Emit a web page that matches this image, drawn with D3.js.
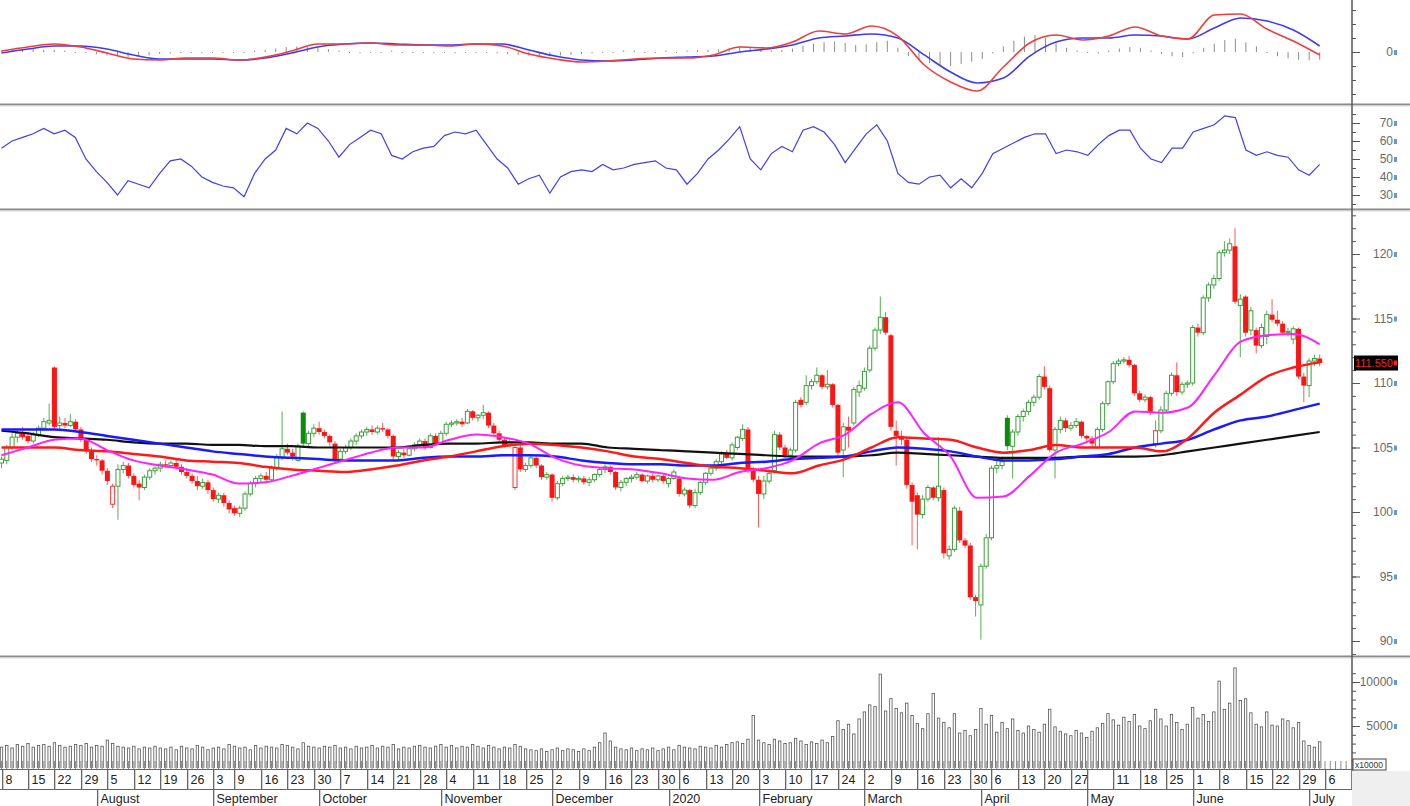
<!DOCTYPE html>
<html>
<head>
<meta charset="utf-8">
<script src="https://cdn.jsdelivr.net/npm/d3@7"></script>
<style>
body { margin: 0; background: #fff; }
svg { display: block; font-family: "Liberation Sans", Arial, sans-serif; }
</style>
</head>
<body>
<svg id="chart" width="1410" height="806"></svg>
<script>
// daily candles, 8 Jul 2019 .. 3 Jul 2020
var opens = [103.8,104.0,105.0,105.8,106.2,105.9,105.5,106.0,106.5,106.9,
111.2,106.7,106.9,106.7,107.0,106.4,105.6,104.7,104.1,104.0,
103.2,100.6,102.0,103.3,103.6,102.8,102.2,101.9,102.7,103.2,
103.4,103.7,103.6,103.8,103.5,103.1,102.8,102.4,102.0,102.3,
101.7,101.0,101.3,100.7,100.3,99.9,100.3,101.4,102.2,102.6,
102.8,102.5,103.4,104.2,104.9,104.6,104.0,107.7,105.3,106.1,
106.5,106.2,105.9,105.3,104.1,104.7,105.0,105.5,105.9,106.2,
106.4,106.2,106.5,106.4,105.9,104.3,104.6,104.4,104.9,105.2,
105.5,105.0,105.9,105.3,106.1,106.8,106.9,107.0,106.9,107.8,
107.3,107.5,107.7,106.7,106.1,105.6,105.2,101.9,105.0,103.3,
103.6,104.2,103.6,102.7,102.9,101.1,102.2,102.6,102.7,102.5,
102.6,102.3,102.5,102.9,103.3,103.5,103.1,101.9,102.3,102.6,
102.7,102.9,102.4,102.8,102.5,102.8,102.2,102.6,102.6,101.4,
101.7,100.5,101.5,102.3,103.0,103.4,103.9,104.6,104.2,105.0,
105.7,106.4,103.3,102.5,101.4,102.4,103.2,106.0,105.0,104.4,
104.8,108.7,108.5,109.8,110.1,110.6,109.7,109.9,108.3,104.8,
106.6,106.9,109.3,109.6,111.0,112.7,114.1,115.1,113.7,106.3,
105.9,105.6,102.1,101.3,99.8,101.0,101.9,101.1,101.7,96.6,
97.1,100.1,97.8,97.4,93.4,92.8,95.8,98.0,103.4,103.6,
107.3,105.1,106.2,107.4,107.8,108.5,108.9,110.5,109.6,104.8,
106.4,107.1,106.5,106.7,107.0,105.9,105.7,105.0,106.4,108.4,
110.1,111.5,111.7,111.8,111.4,109.2,108.7,108.9,105.3,106.3,
107.9,109.2,110.6,109.3,109.9,110.0,114.3,113.9,116.6,117.6,
118.1,120.1,120.3,120.6,116.0,116.7,114.1,114.1,112.9,113.6,
115.3,114.9,114.6,113.9,113.4,114.2,110.5,109.8,111.7,111.9];

var highs = [104.3,105.2,106.1,106.3,106.6,106.2,106.2,106.7,107.3,108.4,
111.3,107.4,107.3,107.6,107.2,106.6,105.8,105.0,104.4,104.1,
103.4,102.2,103.7,103.9,103.8,103.0,102.5,102.9,103.4,103.6,
103.9,104.0,104.0,104.1,103.7,103.4,103.0,102.8,102.6,102.5,
101.9,101.5,101.5,100.9,100.5,100.5,101.6,102.4,102.8,103.0,
103.1,103.6,104.5,107.8,105.3,104.9,105.3,107.8,106.3,106.8,
107.0,106.4,106.0,105.5,104.9,105.2,105.7,106.1,106.4,106.6,
106.7,106.7,106.9,106.5,106.0,104.8,104.9,105.0,105.4,105.7,
105.7,106.1,106.1,106.3,107.0,107.1,107.2,107.3,108.0,107.9,
107.6,108.3,107.8,106.9,106.3,105.8,105.7,105.1,105.2,103.8,
104.4,104.3,103.7,103.1,103.0,102.4,102.8,102.9,102.9,102.8,
102.8,102.7,103.0,103.4,103.7,103.6,103.2,102.5,102.7,102.9,
103.1,103.0,102.9,103.0,102.9,102.9,102.7,103.3,102.8,101.9,
101.8,101.8,102.4,103.1,103.6,104.1,104.7,104.8,105.4,105.9,
106.8,106.6,103.5,102.8,102.8,103.3,106.3,106.2,105.2,105.0,
108.7,108.9,110.6,110.3,111.2,110.7,111.0,110.0,108.4,106.9,
107.4,109.7,110.2,111.2,112.9,114.3,116.7,115.5,113.8,107.1,
106.3,105.8,102.3,101.5,101.3,102.1,102.0,105.8,101.9,97.4,
100.5,100.4,98.0,97.6,93.6,96.0,98.3,103.6,104.0,104.3,
107.5,106.4,107.6,108.0,108.7,109.1,110.7,111.3,109.8,106.6,
107.4,107.3,107.0,107.3,107.1,106.0,105.9,106.6,108.6,110.2,
111.7,111.9,112.0,112.1,111.5,109.4,109.1,109.0,107.1,108.2,
109.4,110.8,111.6,110.1,110.2,114.5,114.6,116.8,117.8,118.4,
120.3,121.0,121.2,122.0,116.9,116.8,115.9,114.3,114.6,115.6,
116.5,115.6,114.8,114.3,114.4,114.3,110.8,111.9,112.2,112.2];

var lows = [103.4,103.7,104.8,105.4,105.6,105.3,105.3,105.8,106.3,106.7,
106.4,106.3,106.5,106.6,106.2,105.4,104.5,103.9,103.6,102.9,
102.1,100.3,99.4,103.0,102.6,101.9,100.9,101.7,102.5,102.9,
103.1,103.4,103.4,103.3,102.9,102.6,102.2,101.7,101.8,101.4,
100.8,100.7,100.4,99.9,99.7,99.6,100.1,101.2,101.9,102.3,
102.2,102.3,103.2,104.0,104.4,104.0,103.9,105.0,105.1,105.8,
106.0,105.7,105.1,103.9,103.9,104.5,104.8,105.2,105.7,105.9,
106.0,106.0,106.2,105.7,104.0,104.1,104.2,104.3,104.7,105.0,
104.8,104.9,105.1,105.2,105.9,106.6,106.7,106.6,106.8,107.1,
107.0,107.2,106.5,105.9,105.4,105.0,105.0,101.7,103.1,103.1,
103.4,103.4,102.5,102.5,100.8,100.9,102.0,102.4,102.3,102.3,
102.1,102.0,102.3,102.7,103.0,102.9,101.7,101.6,102.0,102.3,
102.5,102.3,102.2,102.3,102.3,102.2,101.9,102.5,101.2,101.2,
100.3,100.3,101.3,102.1,102.8,103.2,103.7,104.1,104.0,104.8,
105.5,103.0,102.3,98.8,101.0,102.2,103.0,104.8,104.2,104.2,
104.6,108.1,108.3,109.5,109.9,109.5,109.5,108.1,104.4,102.7,
105.0,106.7,108.9,109.4,110.8,112.5,113.8,113.7,106.3,103.6,
105.2,101.8,97.4,97.1,99.5,100.8,100.9,100.8,96.4,96.3,
96.9,97.6,97.2,93.2,91.9,90.1,95.6,97.8,103.0,103.3,
104.8,102.6,105.9,107.0,107.5,108.2,108.7,109.5,104.6,102.6,
106.1,106.2,106.3,106.5,105.7,105.4,105.0,104.9,106.2,108.2,
109.9,111.3,111.5,111.2,109.0,108.5,108.5,107.5,105.0,106.1,
107.7,109.0,109.0,109.1,109.6,109.8,113.6,113.7,116.3,117.3,
117.9,119.8,120.0,116.1,112.0,113.6,113.7,112.3,112.7,113.0,
114.7,114.4,113.7,113.6,113.0,110.3,108.5,108.9,111.3,111.3];

var closes = [104.1,105.0,105.8,106.1,105.8,105.5,106.0,106.5,107.0,107.1,
106.6,106.9,106.7,107.0,106.4,105.6,104.7,104.1,104.0,103.2,
102.4,102.0,103.3,103.6,102.8,102.1,101.9,102.7,103.2,103.4,
103.7,103.6,103.8,103.5,103.1,102.8,102.4,102.0,102.3,101.7,
101.0,101.3,100.7,100.2,99.9,100.3,101.4,102.2,102.6,102.8,
102.5,103.4,104.2,104.9,104.6,104.3,105.1,105.3,106.1,106.5,
106.2,105.9,105.4,104.1,104.7,105.0,105.5,105.9,106.2,106.4,
106.2,106.5,106.4,105.9,104.3,104.6,104.4,104.9,105.2,105.5,
105.0,105.9,105.3,106.1,106.8,106.9,107.0,106.8,107.8,107.3,
107.5,107.7,106.7,106.1,105.6,105.2,105.4,105.0,103.3,103.6,
104.2,103.6,102.7,102.9,101.1,102.2,102.6,102.7,102.5,102.6,
102.3,102.5,102.9,103.3,103.5,103.1,101.9,102.3,102.6,102.7,
102.9,102.4,102.8,102.5,102.8,102.4,102.6,103.1,101.4,101.7,
100.5,101.5,102.3,103.0,103.4,103.9,104.5,104.2,105.2,105.8,
106.4,103.3,102.5,101.4,102.4,103.0,106.0,105.0,104.4,104.8,
108.5,108.3,109.8,110.1,110.6,109.7,109.9,108.3,104.6,106.6,
106.3,109.5,109.8,110.9,112.7,114.1,115.1,113.9,106.6,105.9,
105.6,102.1,100.8,99.8,101.0,101.9,101.1,102.0,96.8,97.1,
100.3,97.8,97.4,93.4,93.1,95.8,98.0,103.4,103.6,103.9,
105.1,106.2,107.4,107.8,108.5,108.9,110.5,109.7,104.8,106.4,
107.1,106.5,106.7,107.0,105.9,105.7,105.3,106.4,108.4,110.1,
111.5,111.7,111.8,111.4,109.2,108.7,108.9,107.7,106.3,107.9,
109.2,110.6,109.3,109.9,110.0,114.3,113.9,116.6,117.6,118.1,
120.1,120.3,120.8,116.3,116.5,113.9,115.6,112.9,114.3,115.3,
114.9,114.6,113.9,114.0,114.2,110.5,109.8,111.7,111.9,111.55];

var volumes = [2600,2800,2500,2900,2700,3000,2600,2800,2900,2700,
3100,2800,2600,2700,2900,2800,3000,2600,2800,2700,
3400,3000,2700,2600,2500,2700,2400,2600,2500,2700,
2500,2400,2600,2300,2700,2500,2400,2800,2600,2300,
2500,2600,2400,2900,2700,2500,2600,2300,2800,2500,
2700,2600,2500,2900,2800,2600,2400,3100,2700,2600,
2500,2700,2600,2800,2500,2600,2400,2700,2500,2600,
2800,2500,2700,2600,2900,2400,2600,2500,2700,2800,
2600,2500,2700,2900,2600,2800,2500,2700,2600,2900,
2700,2500,2800,2600,2400,2600,2500,2900,2700,2400,
2300,2200,2400,2100,2300,2500,2200,2400,2300,2100,
2400,2200,2600,3100,4200,3300,2600,2400,2300,2500,
2200,2400,2300,2500,2200,2400,2600,2300,2800,2600,
2500,2400,2700,2600,2500,2800,2600,2900,3100,3200,
3000,3500,6200,3400,3100,2900,3500,3300,3000,3100,
3600,3300,2900,3200,3000,3400,3100,3800,5600,4600,
5200,4100,5800,6600,7400,7200,10900,6700,8100,7000,
6500,7600,6200,5300,4700,6400,8700,5900,5400,4800,
6400,4200,4500,3900,4600,7000,5200,6200,4300,5400,
4700,5800,4500,4200,5000,4600,4300,5200,6900,4900,
4400,4100,3900,4500,4200,3700,4400,4800,5300,6400,
5700,5100,6000,5500,6300,5000,4700,5600,6900,5800,
5000,6300,5400,4600,5200,7100,5900,6300,5500,6600,
10100,6900,7600,11600,7900,8100,6500,5200,4900,6600,
5100,5000,5800,5600,4800,5400,3300,2800,2600,3200];

// moving averages read every ~5 sessions across the whole span
var ma20 = [104.4,105.0,105.6,105.7,104.8,104.0,103.6,103.3,102.9,102.2,
102.3,102.8,103.4,104.0,104.6,105.0,105.0,105.6,106.0,105.8,
105.3,104.2,103.6,103.4,103.3,103.0,102.6,102.5,103.1,103.4,
104.0,105.3,106.0,107.6,108.5,106.1,104.3,101.1,101.2,102.8,
104.6,105.3,106.2,107.8,107.7,108.1,110.6,113.2,113.7,113.8,113.0];
var ma50 = [105.0,105.0,105.0,104.8,104.7,104.5,104.3,104.0,103.9,103.8,
103.5,103.3,103.2,103.1,103.3,103.6,104.0,104.3,104.7,105.1,
105.3,105.2,105.0,104.7,104.3,104.1,103.8,103.5,103.4,103.2,
103.0,103.6,104.1,105.0,105.8,105.7,105.6,105.0,104.6,104.8,
105.2,105.0,105.0,105.0,104.7,105.7,107.7,109.1,110.5,111.2,111.6];
var ma100 = [106.4,106.4,106.4,106.2,105.9,105.6,105.3,105.0,104.7,104.5,
104.3,104.2,104.1,104.0,104.0,104.0,104.2,104.3,104.3,104.4,
104.4,104.3,104.0,103.8,103.7,103.7,103.6,103.6,103.8,103.9,
104.1,104.2,104.3,104.7,105.0,104.9,104.7,104.3,104.0,104.0,
104.1,104.3,104.5,105.0,105.3,105.6,106.4,107.1,107.4,107.9,108.4];
var ma200 = [106.3,106.1,105.8,105.7,105.6,105.4,105.3,105.3,105.2,105.2,
105.1,105.1,105.0,105.0,105.0,105.0,105.2,105.3,105.3,105.4,
105.4,105.3,105.3,105.0,104.9,104.8,104.7,104.6,104.5,104.4,
104.3,104.3,104.3,104.4,104.6,104.5,104.4,104.3,104.2,104.2,
104.2,104.3,104.3,104.3,104.4,104.7,105.0,105.3,105.6,105.9,106.2];

// MACD / signal read every ~5 sessions, histogram every 2 sessions
var macd = [0.07,0.36,0.57,0.36,-0.07,-0.5,-0.57,-0.43,-0.43,-0.57,
-0.36,0.07,0.57,0.57,0.64,0.5,0.5,0.43,0.57,0.43,
-0.14,-0.5,-0.71,-0.64,-0.5,-0.43,-0.43,-0.21,0.36,0.29,
0.71,1.5,1.29,1.86,1.14,-0.93,-2.14,-2.79,-1.07,0.64,
1.21,0.86,1.14,1.79,1.14,0.93,2.64,2.71,1.64,0.79,-0.21];
var signal = [-0.07,0.21,0.43,0.43,0.21,-0.21,-0.5,-0.5,-0.5,-0.57,
-0.43,-0.07,0.36,0.57,0.64,0.57,0.5,0.5,0.57,0.57,
0.14,-0.29,-0.57,-0.64,-0.57,-0.43,-0.36,-0.29,0.0,0.21,
0.5,1.0,1.14,1.29,1.0,-0.21,-1.43,-2.21,-1.86,-0.29,
0.71,1.0,1.0,1.21,1.14,0.93,1.71,2.43,2.21,1.57,0.43];
var hist = [0.1,0.15,0.2,0.2,0.15,0.15,0.1,0.05,
-0.05,-0.15,-0.25,-0.3,-0.35,-0.3,-0.25,-0.15,
-0.1,-0.05,0.05,0.05,0.05,0.0,-0.05,0.05,0.1,
0.15,0.25,0.35,0.4,0.35,0.3,0.2,
0.1,0.05,0.0,-0.05,0.05,0.1,0.05,-0.05,0.0,0.05,-0.05,-0.1,0.05,0.0,-0.05,-0.1,-0.15,
-0.2,-0.25,-0.3,-0.3,-0.25,-0.2,-0.15,-0.1,-0.05,0.05,0.1,0.1,0.05,0.05,0.1,
0.05,0.1,0.15,0.15,0.2,0.3,0.4,0.35,0.2,0.1,0.15,0.25,
0.45,0.6,0.7,0.75,0.65,0.5,0.55,0.7,0.8,
0.3,-0.3,-0.6,-0.8,-0.95,-1.0,-0.85,-0.7,-0.5,
-0.1,0.4,0.8,1.1,1.2,1.0,0.7,
0.3,0.1,0.0,-0.1,0.1,0.25,0.35,0.3,0.1,-0.15,-0.3,-0.35,
-0.1,0.3,0.6,0.85,0.95,0.7,0.4,0.0,
-0.3,-0.45,-0.55,-0.6,-0.55];

// RSI read every 2 sessions
var rsi = [56,60,62,64,67,64,66,62,50,43,
37,30,38,36,34,42,49,50,46,40,
37,35,34,29,42,50,55,67,64,70,
67,60,51,58,62,66,64,52,50,54,
56,57,63,65,64,66,58,50,45,36,
39,41,31,40,43,44,43,47,44,45,
47,48,49,45,44,36,42,50,55,61,
68,50,44,53,57,54,66,68,65,58,
48,56,64,69,60,42,37,36,40,41,
34,39,34,42,53,56,59,62,64,64,
53,55,54,52,58,63,66,66,56,50,
48,56,56,65,67,69,74,73,55,52,
54,52,51,44,41,47];

var holidays = ["2019-09-02","2020-01-01","2020-01-23","2020-01-24","2020-01-27",
  "2020-01-28","2020-01-29","2020-04-02","2020-04-30","2020-05-01"];

var weekTicks = ["2019-07-08","2019-07-15","2019-07-22","2019-07-29","2019-08-05","2019-08-12",
  "2019-08-19","2019-08-26","2019-09-03","2019-09-09","2019-09-16","2019-09-23","2019-09-30",
  "2019-10-07","2019-10-14","2019-10-21","2019-10-28","2019-11-04","2019-11-11","2019-11-18",
  "2019-11-25","2019-12-02","2019-12-09","2019-12-16","2019-12-23","2019-12-30","2020-01-06",
  "2020-01-13","2020-01-20","2020-02-03","2020-02-10","2020-02-17","2020-02-24","2020-03-02",
  "2020-03-09","2020-03-16","2020-03-23","2020-03-30","2020-04-06","2020-04-13","2020-04-20",
  "2020-04-27","2020-05-04","2020-05-11","2020-05-18","2020-05-25","2020-06-01","2020-06-08",
  "2020-06-15","2020-06-22","2020-06-29","2020-07-06"];
var weekLabels = ["8","15","22","29","5","12","19","26","3","9","16","23","30","7","14","21","28",
  "4","11","18","25","2","9","16","23","30","6","13","20","3","10","17","24","2","9","16","23",
  "30","6","13","20","27","","11","18","25","1","8","15","22","29","6"];
var monthTicks = ["2019-08-01","2019-09-03","2019-10-01","2019-11-01","2019-12-02","2020-01-02",
  "2020-02-03","2020-03-02","2020-04-01","2020-05-04","2020-06-01","2020-07-01"];
var monthLabels = ["August","September","October","November","December","2020",
  "February","March","April","May","June","July"];

var lastPrice = 111.55;

var W = 1410, H = 806, axisX = 1352;
var svg = d3.select('#chart');

// trading calendar
var fmt = d3.utcFormat("%Y-%m-%d");
var days = d3.utcDays(new Date(Date.UTC(2019, 6, 8)), new Date(Date.UTC(2020, 6, 7)))
  .filter(function(d) { return d.getUTCDay() != 0 && d.getUTCDay() != 6 && holidays.indexOf(fmt(d)) < 0; })
  .map(fmt);
var dayIndex = new Map(days.map(function(d, i) { return [d, i]; }));

var x = d3.scaleLinear().domain([0, days.length - 1]).range([1.5, 1325]);
var last = closes.length - 1;
function sampleX(n) {
  return d3.scaleLinear().domain([0, n - 1]).range([x(0), x(last)]);
}

var panels = {
  macd: {top: 0, bottom: 103},
  rsi: {top: 106, bottom: 208},
  price: {top: 211, bottom: 655},
  vol: {top: 658, bottom: 768}
};
var defs = svg.append('defs');
Object.keys(panels).forEach(function(k) {
  var p = panels[k];
  defs.append('clipPath').attr('id', 'clip-' + k).append('rect')
    .attr('x', 0).attr('y', p.top).attr('width', axisX).attr('height', p.bottom - p.top);
});

var macdY = d3.scaleLinear().domain([-3.5, 3.5]).range([101, 3]);
var rsiY = d3.scaleLinear().domain([30, 70]).range([195, 123]);
var priceY = d3.scaleLinear().domain([90, 120]).range([641, 254]);
var volY = d3.scaleLinear().domain([0, 10000]).range([770, 682]);

// ---- MACD panel
var gM = svg.append('g').attr('clip-path', 'url(#clip-macd)');
var xh = sampleX(hist.length);
gM.selectAll('line.h').data(hist).join('line')
  .attr('x1', function(d, j) { return xh(j); }).attr('x2', function(d, j) { return xh(j); })
  .attr('y1', macdY(0)).attr('y2', function(d) { return Math.abs(macdY(d) - macdY(0)) < 1 ? macdY(0) + 1 : macdY(d); })
  .attr('stroke', '#8c8c8c').attr('stroke-width', 1);
var xm = sampleX(macd.length);
var lineM = d3.line().x(function(d, j) { return xm(j); }).y(function(d) { return macdY(d); }).curve(d3.curveMonotoneX);
gM.append('path').datum(signal).attr('d', lineM).attr('fill', 'none').attr('stroke', '#3c3cf0').attr('stroke-width', 1.6);
gM.append('path').datum(macd).attr('d', lineM).attr('fill', 'none').attr('stroke', '#f03c3c').attr('stroke-width', 1.6);

// ---- RSI panel
var gR = svg.append('g').attr('clip-path', 'url(#clip-rsi)');
var xr = sampleX(rsi.length);
gR.append('path').datum(rsi)
  .attr('d', d3.line().x(function(d, j) { return xr(j); }).y(function(d) { return rsiY(d); }))
  .attr('fill', 'none').attr('stroke', '#4040ee').attr('stroke-width', 1.2);

// ---- price panel
var candles = closes.map(function(c, i) {
  return {i: i, o: opens[i], h: highs[i], l: lows[i], c: c, prev: i ? closes[i - 1] : opens[i]};
});
function isUp(d) { return d.c >= d.prev; }
var gP = svg.append('g').attr('clip-path', 'url(#clip-price)');
gP.selectAll('line.wick').data(candles).join('line')
  .attr('x1', function(d) { return x(d.i); }).attr('x2', function(d) { return x(d.i); })
  .attr('y1', function(d) { return priceY(d.h); }).attr('y2', function(d) { return priceY(d.l); })
  .attr('stroke', function(d) { return isUp(d) ? '#55b055' : '#ff5a5a'; }).attr('stroke-width', 1);
gP.selectAll('rect.body').data(candles).join('rect')
  .attr('x', function(d) { return d.c < d.o ? x(d.i) - 2.5 : x(d.i) - 2; })
  .attr('width', function(d) { return d.c < d.o ? 5 : 4; })
  .attr('y', function(d) { return priceY(Math.max(d.o, d.c)); })
  .attr('height', function(d) { return Math.max(1, Math.abs(priceY(d.o) - priceY(d.c))); })
  .attr('fill', function(d) { return d.c < d.o ? (isUp(d) ? '#0c8a0c' : '#ff1414') : '#fff'; })
  .attr('stroke', function(d) { return d.c < d.o ? 'none' : (isUp(d) ? '#3c9e3c' : '#ff3030'); })
  .attr('stroke-width', 1);

var xa = sampleX(ma20.length);
var lineMA = d3.line().x(function(d, j) { return xa(j); }).y(function(d) { return priceY(d); }).curve(d3.curveMonotoneX);
[[ma200, '#111', 2.2], [ma100, '#1a1aff', 2.5], [ma50, '#ff1a1a', 2.5], [ma20, '#ff22ff', 2]].forEach(function(m) {
  gP.append('path').datum(m[0]).attr('d', lineMA).attr('fill', 'none')
    .attr('stroke', m[1]).attr('stroke-width', m[2]);
});

// ---- volume panel
var gV = svg.append('g').attr('clip-path', 'url(#clip-vol)');
gV.selectAll('rect').data(volumes).join('rect')
  .attr('x', function(d, i) { return x(i) - 1.2; }).attr('width', 2.4)
  .attr('y', function(d) { return volY(d); }).attr('height', function(d) { return volY(0) - volY(d); })
  .attr('fill', '#fff').attr('stroke', '#555').attr('stroke-width', 0.8);

// ---- separators
[104.5, 209.5, 656.5].forEach(function(y) {
  svg.append('line').attr('x1', 0).attr('x2', W).attr('y1', y).attr('y2', y)
    .attr('stroke', '#8a8a8a').attr('stroke-width', 2);
  svg.append('line').attr('x1', 0).attr('x2', W).attr('y1', y + 1.5).attr('y2', y + 1.5)
    .attr('stroke', '#dcdcdc').attr('stroke-width', 1);
});

// ---- right axes
svg.append('line').attr('x1', axisX).attr('x2', axisX).attr('y1', 0).attr('y2', 789)
  .attr('stroke', '#555').attr('stroke-width', 1.5);

function rightAxis(scale, minor, major, fmtLabel) {
  var g = svg.append('g').attr('transform', 'translate(' + axisX + ',0)');
  g.append('g').call(d3.axisRight(scale).tickValues(minor).tickSize(4).tickFormat(''))
    .call(function(s) { s.select('.domain').remove(); s.selectAll('line').attr('stroke', '#555'); });
  var gm = g.append('g').call(d3.axisRight(scale).tickValues(major).tickSize(8).tickFormat(fmtLabel))
    .call(function(s) { s.select('.domain').remove(); s.selectAll('line').attr('stroke', '#555'); });
  gm.selectAll('text').attr('x', 41).attr('text-anchor', 'end')
    .attr('fill', '#6a6a6a').attr('font-size', 12).attr('font-family', '"Liberation Sans", Arial, sans-serif');
  gm.selectAll('.tick').append('rect').attr('x', 42).attr('y', -2.5).attr('width', 3).attr('height', 5)
    .attr('fill', '#6c95d8');
}
rightAxis(macdY, d3.range(-3, 4, 1), [0], d3.format('d'));
rightAxis(rsiY, d3.range(25, 80, 5).filter(function(v) { return rsiY(v) > 107 && rsiY(v) < 207; }),
  [30, 40, 50, 60, 70], d3.format('d'));
rightAxis(priceY, d3.range(88, 124, 1).filter(function(v) { return priceY(v) > 212 && priceY(v) < 654; }),
  [90, 95, 100, 105, 110, 115, 120], d3.format('d'));
rightAxis(volY, d3.range(1000, 12000, 1000).filter(function(v) { return volY(v) > 659; }),
  [5000, 10000], d3.format('d'));

// last price tag
svg.append('rect').attr('x', axisX + 2).attr('y', priceY(lastPrice) - 7.5)
  .attr('width', 44).attr('height', 15).attr('fill', '#000');
svg.append('text').attr('x', axisX + 41).attr('y', priceY(lastPrice) + 4)
  .attr('text-anchor', 'end').attr('font-size', 11).attr('fill', '#ff2020').text(d3.format('.3f')(lastPrice));
svg.append('rect').attr('x', axisX + 42).attr('y', priceY(lastPrice) - 2.5)
  .attr('width', 3).attr('height', 5).attr('fill', '#ff2020');

// ---- time axis
svg.append('rect').attr('x', axisX).attr('y', 771).attr('width', W - axisX).attr('height', H - 771)
  .attr('fill', '#efefef');
svg.append('rect').attr('x', axisX + 1).attr('y', 759).attr('width', 33).attr('height', 11)
  .attr('fill', '#fff').attr('stroke', '#444').attr('stroke-width', 1);
svg.append('text').attr('x', axisX + 3).attr('y', 768).attr('font-size', 8.5).attr('fill', '#333').text('x10000');

var combIdx = d3.range(0, 260).filter(function(i) { return x(i) < axisX - 1; });
svg.append('g').selectAll('line').data(combIdx).join('line')
  .attr('x1', function(i) { return x(i); }).attr('x2', function(i) { return x(i); })
  .attr('y1', 761).attr('y2', 769).attr('stroke', '#8a8a8a').attr('stroke-width', 1);
[769.5, 789.5].forEach(function(y) {
  svg.append('line').attr('x1', 0).attr('x2', axisX).attr('y1', y).attr('y2', y)
    .attr('stroke', '#666').attr('stroke-width', 1);
});

var gW = svg.append('g');
weekTicks.forEach(function(d, k) {
  var xx = Math.round(x(dayIndex.get(d))) + 0.5;
  gW.append('line').attr('x1', xx).attr('x2', xx).attr('y1', 770).attr('y2', 789)
    .attr('stroke', '#666').attr('stroke-width', 1);
  gW.append('line').attr('x1', xx + 1).attr('x2', xx + 1).attr('y1', 770).attr('y2', 789)
    .attr('stroke', '#d0d0d0').attr('stroke-width', 1);
  gW.append('text').attr('x', xx + 3).attr('y', 784).attr('font-size', 12.5).attr('fill', '#222')
    .text(weekLabels[k]);
});
var gMo = svg.append('g');
monthTicks.forEach(function(d, k) {
  var xx = Math.round(x(dayIndex.get(d))) + 0.5;
  gMo.append('line').attr('x1', xx).attr('x2', xx).attr('y1', 790).attr('y2', 806)
    .attr('stroke', '#666').attr('stroke-width', 1);
  gMo.append('line').attr('x1', xx + 1).attr('x2', xx + 1).attr('y1', 790).attr('y2', 806)
    .attr('stroke', '#d0d0d0').attr('stroke-width', 1);
  gMo.append('text').attr('x', xx + 3).attr('y', 803).attr('font-size', 12.5).attr('fill', '#222')
    .text(monthLabels[k]);
});
</script>
</body>
</html>
